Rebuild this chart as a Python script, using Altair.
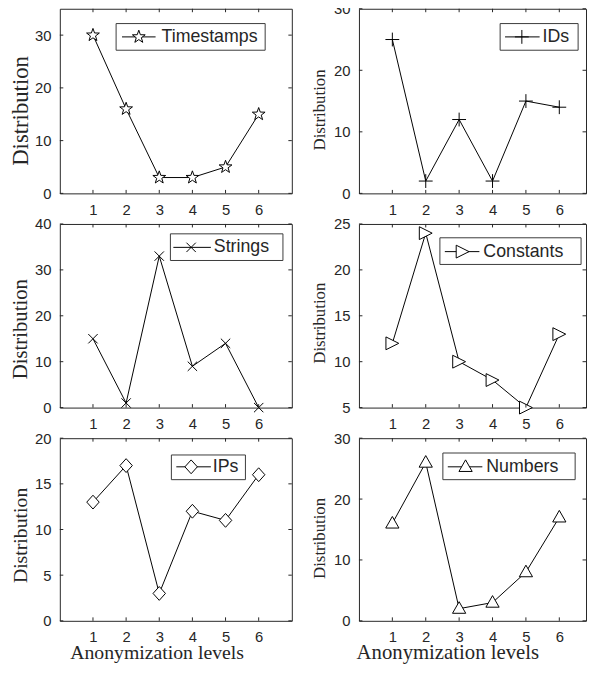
import math
import altair as alt
import pandas as pd

# ---------------- data ----------------
levels = [1, 2, 3, 4, 5, 6]
timestamps = [30, 16, 3, 3, 5, 15]
ids = [25, 2, 12, 2, 15, 14]
strings = [15, 1, 33, 9, 14, 0]
constants = [12, 24, 10, 8, 5, 13]
ips = [13, 17, 3, 12, 11, 16]
numbers = [16, 26, 2, 3, 8, 17]

x_ticks = [1, 2, 3, 4, 5, 6]
y_ticks_timestamps = [0, 10, 20, 30]
y_ticks_ids = [0, 10, 20, 30]
y_ticks_strings = [0, 10, 20, 30, 40]
y_ticks_constants = [5, 10, 15, 20, 25]
y_ticks_ips = [0, 5, 10, 15, 20]
y_ticks_numbers = [0, 10, 20, 30]

y_title = "Distribution"
x_title = "Anonymization levels"

# ---------------- style ----------------
SANS = "Liberation Sans"
SERIF = "Liberation Serif"
DARK = "#262626"


def star_path():
    pts = []
    for k in range(10):
        r = 1.0 if k % 2 == 0 else 0.40
        a = math.radians(-90 + 36 * k)
        pts.append(f"{r * math.cos(a):.3f},{r * math.sin(a):.3f}")
    return "M" + "L".join(pts) + "Z"


SHAPE_STAR = star_path()
SHAPE_PLUS = "M-1,0L1,0M0,-1L0,1"
SHAPE_X = "M-1,-1L1,1M-1,1L1,-1"
SHAPE_TRI_RIGHT = "M-1,-1L1,0L-1,1Z"
SHAPE_DIAMOND = "M0,-1L0.9,0L0,1L-0.9,0Z"
SHAPE_TRI_UP = "M0,-1.05L1,0.7L-1,0.7Z"


def panel(name, values, ydom, yticks, shape, size, W, H, xmax, leg,
          yt_size, yt_x, yt_y, xt=None, guard_top=False, guard_bottom=False):
    df = pd.DataFrame({"level": levels, "value": values})
    xs = alt.Scale(domain=[0, xmax], nice=False, zero=False)
    ys = alt.Scale(domain=ydom, nice=False, zero=False)

    xaxis_kw = dict(values=x_ticks, tickSize=0, labelPadding=9, domain=False,
                    grid=False, labelFont=SANS, labelFontSize=15,
                    labelColor=DARK, format="d")
    if xt is not None:
        xaxis_kw.update(title=x_title, titleFont=SERIF, titleFontSize=xt[0],
                        titleFontWeight="normal", titleColor=DARK,
                        titleX=xt[1], titleY=38, titleBaseline="alphabetic",
                        titleAlign="center")
    else:
        xaxis_kw.update(title=None)
    xaxis = alt.Axis(**xaxis_kw)
    yaxis = alt.Axis(values=yticks, tickSize=0, labelPadding=9, domain=False,
                     grid=False, labelFont=SANS, labelFontSize=15,
                     labelColor=DARK, format="d",
                     title=y_title, titleFont=SERIF, titleFontSize=yt_size,
                     titleFontWeight="normal", titleColor=DARK,
                     titleX=yt_x, titleY=yt_y, titleBaseline="alphabetic",
                     titleAlign="center", titleAngle=270)

    base = alt.Chart(df)
    line = base.mark_line(color="black", strokeWidth=1).encode(
        x=alt.X("level:Q", scale=xs, axis=xaxis),
        y=alt.Y("value:Q", scale=ys, axis=yaxis),
    )
    pts = base.mark_point(shape=shape, size=size, filled=True, fill="white",
                          stroke="black", strokeWidth=1, opacity=1).encode(
        x=alt.X("level:Q", scale=xs, axis=xaxis),
        y=alt.Y("value:Q", scale=ys, axis=yaxis),
    )

    xtd = alt.Chart(pd.DataFrame({"t": x_ticks}))
    ytd = alt.Chart(pd.DataFrame({"t": yticks}))
    tl = 3.5
    top_t = xtd.mark_rule(color=DARK, strokeWidth=1).encode(
        x=alt.X("t:Q", scale=xs, axis=xaxis), y=alt.value(0), y2=alt.value(tl))
    bot_t = xtd.mark_rule(color=DARK, strokeWidth=1).encode(
        x=alt.X("t:Q", scale=xs, axis=xaxis), y=alt.value(H), y2=alt.value(H - tl))
    left_t = ytd.mark_rule(color=DARK, strokeWidth=1).encode(
        y=alt.Y("t:Q", scale=ys, axis=yaxis), x=alt.value(0), x2=alt.value(tl))
    right_t = ytd.mark_rule(color=DARK, strokeWidth=1).encode(
        y=alt.Y("t:Q", scale=ys, axis=yaxis), x=alt.value(W), x2=alt.value(W - tl))

    bx0, bx1, by0, by1, lx0, lx1, mx, tx, ly = leg
    ld = alt.Chart(pd.DataFrame({"label": [name]}))
    box = ld.mark_rect(fill="white", stroke="#3a3a3a", strokeWidth=1).encode(
        x=alt.value(bx0), x2=alt.value(bx1), y=alt.value(by0), y2=alt.value(by1))
    lline = ld.mark_rule(color="black", strokeWidth=1).encode(
        x=alt.value(lx0), x2=alt.value(lx1), y=alt.value(ly))
    lmark = ld.mark_point(shape=shape, size=size, filled=True, fill="white",
                          stroke="black", strokeWidth=1, opacity=1).encode(
        x=alt.value(mx), y=alt.value(ly))
    ltext = ld.mark_text(align="left", baseline="middle", font=SANS,
                         fontSize=18, color=DARK).encode(
        x=alt.value(tx), y=alt.value(ly), text="label:N")

    layers = [line, pts, top_t, bot_t, left_t, right_t, box, lline, lmark, ltext]
    if guard_top:
        layers.append(ld.mark_rule(opacity=0, strokeWidth=1).encode(
            x=alt.value(-56), y=alt.value(-20), y2=alt.value(0)))
    if guard_bottom:
        layers.append(ld.mark_rule(opacity=0, strokeWidth=1).encode(
            x=alt.value(-56), y=alt.value(H), y2=alt.value(H + 42)))
    return alt.layer(*layers).properties(width=W, height=H)


WL, WR = 235, 230
H1, H2, H3 = 187, 186, 185

p1 = panel("Timestamps", timestamps, [0, 35], y_ticks_timestamps, SHAPE_STAR, 185,
           WL, H1, 7, (57, 208, 15, 42, 63, 97, 80, 103, 28.5),
           23, -33, 103, guard_top=True)
p2 = panel("IDs", ids, [0, 30], y_ticks_ids, SHAPE_PLUS, 196,
           WR, H1, 6.8, (143, 222, 15, 42, 148, 183, 165, 186, 28.5),
           17, -34.5, 102)
p3 = panel("Strings", strings, [0, 40], y_ticks_strings, SHAPE_X, 90,
           WL, H2, 7, (112, 226, 10, 37, 115, 153, 133, 156, 23.7),
           21, -34, 106)
p4 = panel("Constants", constants, [5, 25], y_ticks_constants, SHAPE_TRI_RIGHT, 169,
           WR, H2, 6.8, (82, 225, 14, 41, 87, 122, 105, 126, 28),
           17, -34.5, 100)
p5 = panel("IPs", ips, [0, 20], y_ticks_ips, SHAPE_DIAMOND, 196,
           WL, H3, 7, (113, 188, 17, 42, 118, 153, 133, 155, 29),
           20, -34, 98, xt=(20, 98), guard_bottom=True)
p6 = panel("Numbers", numbers, [0, 30], y_ticks_numbers, SHAPE_TRI_UP, 180,
           WR, H3, 6.8, (85, 219, 15, 42, 90, 125, 108, 129, 29),
           17, -34.5, 101, xt=(21, 89.5))

chart = alt.concat(p1, p2, p3, p4, p5, p6, columns=2, bounds="flush",
                   spacing={"row": 31, "column": 68}).properties(
    padding={"left": -4.5, "top": -24.5, "right": 0, "bottom": -0.5}
).configure(background="white").configure_axis(
    labelFont=SANS, titleFont=SERIF
).configure_view(stroke=DARK, strokeWidth=1)

chart.save("out.html", embed_options={"renderer": "svg", "actions": False})
